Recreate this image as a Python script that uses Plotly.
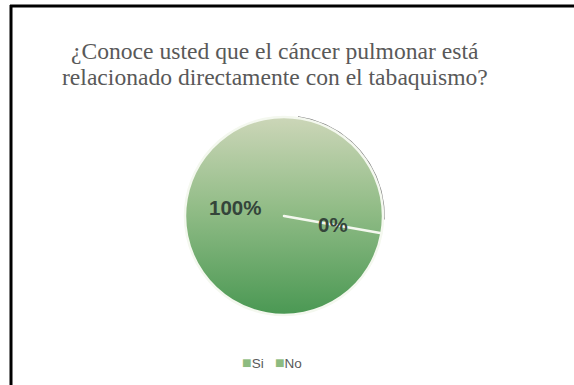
import numpy as np
import plotly.graph_objects as go

# Survey answers
labels = ["Si", "No"]
values = [100, 0]
pct_text = ["100%", "0%"]

title_lines = [
    "¿Conoce usted que el cáncer pulmonar está",
    "relacionado directamente con el tabaquismo?",
]

# Canvas and layout geometry (pixels)
W, H = 574, 385
PIE_CX, PIE_CY, PIE_R = 284, 216, 99
ROTATION = 100  # first slice starts 100 deg clockwise from 12 o'clock

GREEN_SCALE = [[0.0, "#ccd6b8"], [0.45, "#93bd88"], [1.0, "#4a9853"]]
SWATCH = "#8dbb80"


def px_x(x):
    return x / W


def px_y(y):
    return 1 - y / H


fig = go.Figure()

# Shaded disk that gives the pie its top-to-bottom green gradient
theta = np.linspace(0, 2 * np.pi, 241)
fig.add_trace(go.Scatter(
    x=PIE_CX + PIE_R * np.sin(theta),
    y=PIE_CY - PIE_R * np.cos(theta),
    mode="lines", line=dict(width=0), fill="toself",
    fillgradient=dict(type="vertical", colorscale=GREEN_SCALE,
                      start=PIE_CY - PIE_R, stop=PIE_CY + PIE_R),
    hoverinfo="skip", showlegend=False,
))

# Soft dark rim along the upper-right edge
arc = np.radians(np.linspace(8, 92, 60))
fig.add_trace(go.Scatter(
    x=PIE_CX + (PIE_R + 1.0) * np.sin(arc),
    y=PIE_CY - (PIE_R + 1.0) * np.cos(arc),
    mode="lines", line=dict(color="rgba(55,55,55,0.7)", width=1.5),
    hoverinfo="skip", showlegend=False,
))

# The pie itself: transparent fill over the gradient disk, white slice borders
fig.add_trace(go.Pie(
    labels=labels, values=values, sort=False,
    direction="clockwise", rotation=ROTATION,
    marker=dict(colors=["rgba(0,0,0,0)", "rgba(0,0,0,0)"],
                line=dict(color="#f4f8ef", width=2.5)),
    textinfo="none", hoverinfo="label+percent", showlegend=False,
    domain=dict(x=[px_x(PIE_CX - PIE_R), px_x(PIE_CX + PIE_R)],
                y=[px_y(PIE_CY + PIE_R), px_y(PIE_CY - PIE_R)]),
))

# Percentage labels placed halfway out along each slice's mid-angle
total = sum(values)
cum = 0
for v, t in zip(values, pct_text):
    mid = np.radians(ROTATION + 360 * (cum + v / 2) / total)
    cum += v
    lx = PIE_CX + 0.5 * PIE_R * np.sin(mid)
    ly = PIE_CY - 0.5 * PIE_R * np.cos(mid)
    fig.add_annotation(
        x=px_x(lx), y=px_y(ly), xref="paper", yref="paper",
        text=t, showarrow=False,
        font=dict(family="Liberation Sans, Arial", size=20.5,
                  color="#34453a", weight="bold"),
    )

# Title, one line per annotation for tighter line spacing
for i, line in enumerate(title_lines):
    fig.add_annotation(
        x=px_x(275), y=px_y(51 + 26 * i), xref="paper", yref="paper",
        xanchor="center", yanchor="middle", text=line, showarrow=False,
        font=dict(family="Liberation Serif, Times New Roman", size=23.6,
                  color="#595959"),
    )

# Legend: small green squares followed by the answer labels
legend_text = "&nbsp;&nbsp;&nbsp;".join(
    f'<span style="color:{SWATCH};font-size:16px">■</span>{lab}' for lab in labels
)
fig.add_annotation(
    x=px_x(272), y=px_y(362), xref="paper", yref="paper",
    xanchor="center", yanchor="middle", text=legend_text, showarrow=False,
    font=dict(family="Liberation Sans, Arial", size=13.5, color="#595959"),
)

# Frame lines on the left and top
fig.add_shape(type="line", xref="paper", yref="paper",
              x0=px_x(11), x1=px_x(11), y0=px_y(5), y1=0,
              line=dict(color="black", width=3))
fig.add_shape(type="line", xref="paper", yref="paper",
              x0=px_x(10), x1=1, y0=px_y(6), y1=px_y(6),
              line=dict(color="black", width=3))

fig.update_layout(
    width=W, height=H,
    margin=dict(l=0, r=0, t=0, b=0),
    paper_bgcolor="white", plot_bgcolor="white",
    xaxis=dict(range=[0, W], domain=[0, 1], visible=False, fixedrange=True),
    yaxis=dict(range=[H, 0], domain=[0, 1], visible=False, fixedrange=True),
    showlegend=False,
)

fig.write_html("out.html")
